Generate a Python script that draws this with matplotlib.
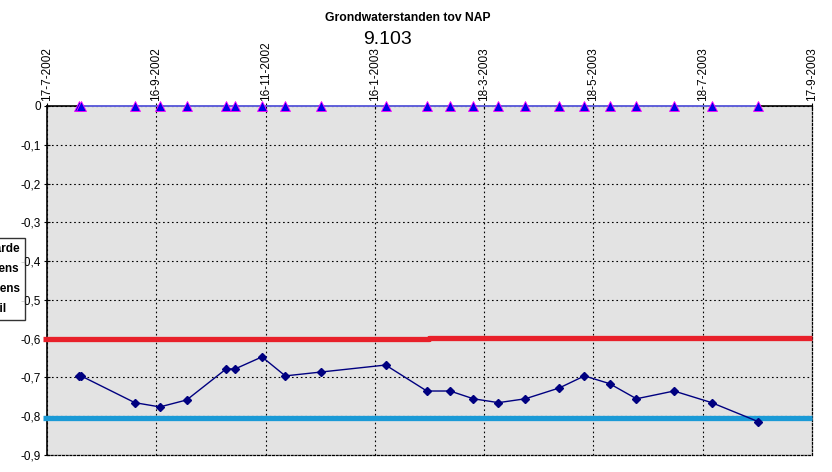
import matplotlib
matplotlib.use("Agg")
import matplotlib.pyplot as plt
import numpy as np
import pandas as pd

plt.rcParams['font.family'] = ['Liberation Sans', 'DejaVu Sans']

# meetdata
datums = ['2002-08-04', '2002-08-05', '2002-09-04', '2002-09-18', '2002-10-03',
          '2002-10-25', '2002-10-30', '2002-11-14', '2002-11-27', '2002-12-17',
          '2003-01-22', '2003-02-14', '2003-02-27', '2003-03-12', '2003-03-26',
          '2003-04-10', '2003-04-29', '2003-05-13', '2003-05-27', '2003-06-11',
          '2003-07-02', '2003-07-23', '2003-08-18']
meetwaarde = [-0.695, -0.696, -0.765, -0.776, -0.758,
              -0.678, -0.678, -0.647, -0.696, -0.686,
              -0.668, -0.735, -0.735, -0.755, -0.765,
              -0.755, -0.727, -0.696, -0.716, -0.755,
              -0.735, -0.765, -0.814]
peil = [0.0] * len(datums)

# grenzen
boven_datums = ['2002-07-15', '2003-02-15', '2003-02-15', '2003-09-17']
bovengrens = [-0.602, -0.602, -0.597, -0.597]
onder_datums = ['2002-07-15', '2003-09-17']
ondergrens = [-0.805, -0.805]

tick_datums = ['2002-07-17', '2002-09-16', '2002-11-16', '2003-01-16',
               '2003-03-18', '2003-05-18', '2003-07-18', '2003-09-17']
tick_labels = ['17-7-2002', '16-9-2002', '16-11-2002', '16-1-2003',
               '18-3-2003', '18-5-2003', '18-7-2003', '17-9-2003']
y_ticks = [0, -0.1, -0.2, -0.3, -0.4, -0.5, -0.6, -0.7, -0.8, -0.9]
y_labels = ['0', '-0,1', '-0,2', '-0,3', '-0,4', '-0,5', '-0,6', '-0,7', '-0,8', '-0,9']

d = pd.to_datetime(datums)
fig = plt.figure(figsize=(8.32, 4.72), dpi=100)
ax = fig.add_axes([47/832, 1-455/472, 765/832, 349/472])
ax.set_facecolor('#e3e3e3')

l_onder, = ax.plot(pd.to_datetime(onder_datums), ondergrens, color='#1a9ad6', lw=3.8,
                   solid_capstyle='butt', clip_on=False, zorder=3)
l_boven, = ax.plot(pd.to_datetime(boven_datums), bovengrens, color='#e8202a', lw=3.8,
                   solid_capstyle='butt', clip_on=False, zorder=3)
l_meet, = ax.plot(d, meetwaarde, color='#000080', lw=1, marker='D', ms=4.5,
                  clip_on=False, zorder=4)
l_peil, = ax.plot(d, peil, color='#7070ff', lw=1.2, marker='^', ms=6.5,
                  mfc='#0000e8', mec='#ff00ff', mew=0.6, clip_on=False, zorder=5)

ax.set_xlim(pd.Timestamp('2002-07-17'), pd.Timestamp('2003-09-17'))
ax.set_ylim(-0.9, 0)
ax.set_yticks(y_ticks)
ax.set_yticklabels(y_labels, fontsize=8.5)
ax.set_xticks(pd.to_datetime(tick_datums))
ax.set_xticklabels(tick_labels, rotation=90, fontsize=8.5)
ax.xaxis.tick_top()
ax.tick_params(axis='x', direction='inout', length=5, pad=1)
ax.tick_params(axis='y', direction='inout', length=5, pad=2)

ax.grid(True, color='black', linestyle=(0, (1.5, 2.5)), linewidth=0.8)
ax.set_axisbelow(True)
for s in ['left', 'top']:
    ax.spines[s].set_linewidth(1.2)
for s in ['right', 'bottom']:
    ax.spines[s].set_linestyle((0, (1.5, 1.5)))
    ax.spines[s].set_linewidth(0.9)

fig.text(408/832, 1-18/472, 'Grondwaterstanden tov NAP', ha='center', va='center',
         fontsize=8.7, fontweight='bold')
fig.text(388/832, 1-39/472, '9.103', ha='center', va='center', fontsize=14)

leg = fig.legend([l_meet, l_onder, l_boven, l_peil],
                 ['Meetwaarde', 'Ondergrens', 'Bovengrens', 'Streefpeil'],
                 loc='center right', bbox_to_anchor=(25/832, 1-279/472),
                 fontsize=8.5, frameon=True, fancybox=False, labelspacing=0.7,
                 borderpad=0.4, borderaxespad=0, handlelength=2)
leg.get_frame().set_edgecolor('black')
leg.get_frame().set_linewidth(1)
for t in leg.get_texts():
    t.set_fontweight('bold')

fig.savefig('out.png', dpi=100)
